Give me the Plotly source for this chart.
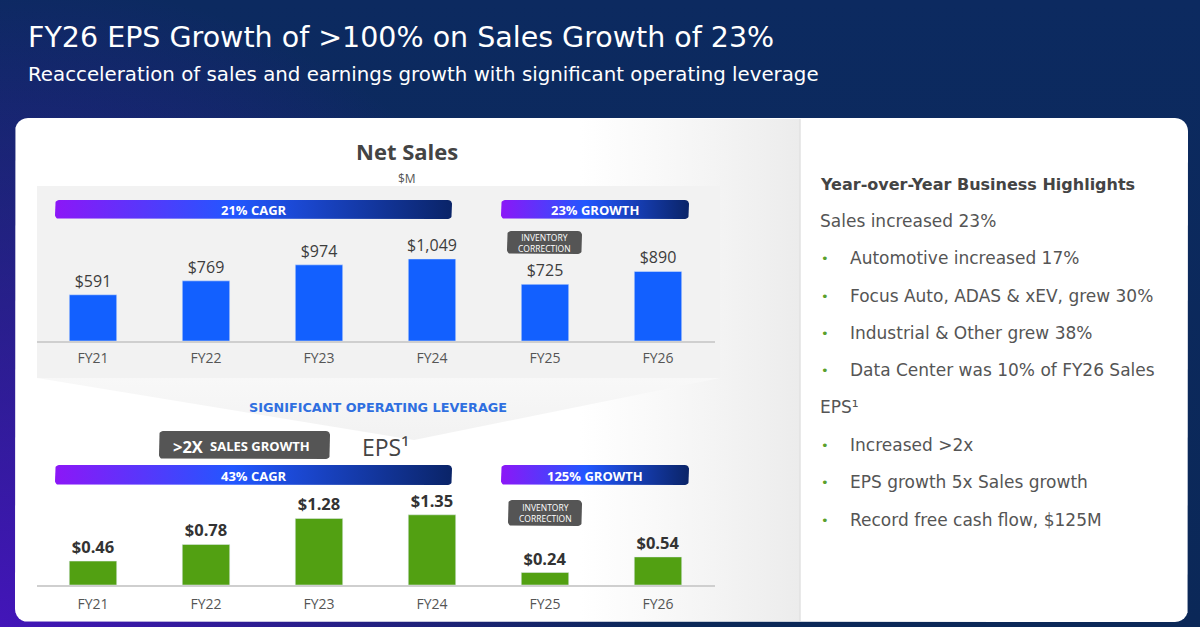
import numpy as np
import plotly.graph_objects as go

# ---------------- data ----------------
years = ["FY21", "FY22", "FY23", "FY24", "FY25", "FY26"]
net_sales = [591, 769, 974, 1049, 725, 890]          # $M
eps = [0.46, 0.78, 1.28, 1.35, 0.24, 0.54]           # $
sales_banners = ["21% CAGR", "23% GROWTH"]
eps_banners = ["43% CAGR", "125% GROWTH"]
highlight_title = "Year-over-Year Business Highlights"
sales_head = "Sales increased 23%"
sales_points = ["Automotive increased 17%",
                "Focus Auto, ADAS & xEV, grew 30%",
                "Industrial & Other grew 38%",
                "Data Center was 10% of FY26 Sales"]
eps_head = "EPS¹"
eps_points = ["Increased >2x",
              "EPS growth 5x Sales growth",
              "Record free cash flow, $125M"]

FONT = "Open Sans"
WIDE = "DejaVu Sans"
W, H = 1200, 627
BLUE = "#1260ff"
GREEN = "#52a012"
GRAD = [[0, "#8c17f7"], [0.45, "#2257ff"], [1, "#0a2468"]]


def rrect(x0, y0, x1, y1, r, n=7):
    pts = []
    corners = [(x1 - r, y0 + r, -90, 0), (x1 - r, y1 - r, 0, 90),
               (x0 + r, y1 - r, 90, 180), (x0 + r, y0 + r, 180, 270)]
    for cx, cy, a0, a1 in corners:
        for t in np.linspace(np.radians(a0), np.radians(a1), n):
            pts.append((cx + r * np.cos(t), cy + r * np.sin(t)))
    pts.append(pts[0])
    return [p[0] for p in pts], [p[1] for p in pts]


def deco(xs, ys, color=None, grad=None):
    d = dict(x=xs, y=ys, xaxis="x", yaxis="y", mode="lines", line=dict(width=0),
             fill="toself", hoverinfo="skip", showlegend=False)
    if grad is not None:
        d["fillgradient"] = grad
    else:
        d["fillcolor"] = color
    return go.Scatter(**d)


fig = go.Figure()

# ---------- background & card (pixel overlay axes) ----------
fig.add_trace(deco([0, W, W, 0, 0], [0, 0, H, H, 0],
                   grad=dict(type="vertical", colorscale=[[0, "#0b2858"], [1, "#0c2a60"]])))
fig.add_trace(deco([-650, 650, 650, -650, -650], [H - 650, H - 650, H + 650, H + 650, H - 650],
                   grad=dict(type="radial", colorscale=[[0, "rgba(70,20,190,0.95)"],
                                                        [1, "rgba(70,20,190,0)"]])))
cx, cy = rrect(15, 118, 1188, 622, 13)
fig.add_trace(deco(cx, cy, color="#ffffff"))
# soft grey towards divider
fig.add_trace(deco([580, 800, 800, 580, 580], [119, 119, 621, 621, 119],
                   grad=dict(type="horizontal", colorscale=[[0, "rgba(238,238,238,0)"],
                                                            [1, "rgba(236,236,236,1)"]])))
# net sales panel + funnel
fig.add_trace(deco([37, 720, 720, 37, 37], [186, 186, 378, 378, 186], color="#f2f2f2"))
fig.add_trace(deco([37, 720, 414, 37], [378, 378, 440, 378],
                   grad=dict(type="vertical", colorscale=[[0, "#f2f2f2"], [1, "#f8f8f8"]])))
# divider
fig.add_trace(go.Scatter(x=[800, 800], y=[119, 621], xaxis="x", yaxis="y", mode="lines",
                         line=dict(color="#e2e2e2", width=1.5), hoverinfo="skip", showlegend=False))

# gradient banners
banner_boxes = [(55, 200, 452, 219), (501, 200, 689, 219),
                (55, 465, 452, 485), (501, 465, 689, 485)]
banner_texts = sales_banners + eps_banners
for (x0, y0, x1, y1) in banner_boxes:
    bx, by = rrect(x0, y0, x1, y1, 4)
    fig.add_trace(deco(bx, by, grad=dict(type="horizontal", colorscale=GRAD)))

# grey tag boxes
tag_boxes = [(507, 231, 582, 254), (508, 500, 582, 526), (159, 431, 330, 459)]
for (x0, y0, x1, y1) in tag_boxes:
    tx, ty = rrect(x0, y0, x1, y1, 4)
    fig.add_trace(deco(tx, ty, color="#555555"))

# ---------- bars ----------
fig.add_trace(go.Bar(x=years, y=net_sales, xaxis="x2", yaxis="y2", marker_color=BLUE,
                     width=0.42, texttemplate="$%{y:,.0f}", textposition="outside",
                     constraintext="none", cliponaxis=False,
                     textfont=dict(family=FONT, size=16, color="#3d3d3d"),
                     hoverinfo="skip", showlegend=False))
fig.add_trace(go.Bar(x=years, y=eps, xaxis="x3", yaxis="y3", marker_color=GREEN,
                     width=0.42, texttemplate="<b>$%{y:.2f}</b>", textposition="outside",
                     constraintext="none", cliponaxis=False,
                     textfont=dict(family=FONT, size=16.5, color="#333333"),
                     hoverinfo="skip", showlegend=False))

# ---------- annotations ----------
ann = []


def txt(x, y, s, size, color, bold=False, xanchor="left", yanchor="middle", family=FONT):
    ann.append(dict(x=x, y=y, xref="x", yref="y", text=f"<b>{s}</b>" if bold else s,
                    showarrow=False, xanchor=xanchor, yanchor=yanchor,
                    font=dict(family=family, size=size, color=color)))


txt(26, 37, "FY26 EPS Growth of >100% on Sales Growth of 23%", 28.5, "#ffffff", family=WIDE)
txt(26, 74, "Reacceleration of sales and earnings growth with significant operating leverage",
    19.8, "#ffffff", family=WIDE)

txt(407, 151, "Net Sales", 22, "#444444", bold=True, xanchor="center")
txt(407, 178, "$M", 12, "#555555", xanchor="center")

for (x0, y0, x1, y1), s in zip(banner_boxes, banner_texts):
    txt((x0 + x1) / 2, (y0 + y1) / 2 + 0.5, s, 13, "#ffffff", bold=True, xanchor="center")

for (x0, y0, x1, y1) in tag_boxes[:2]:
    ann.append(dict(x=(x0 + x1) / 2, y=(y0 + y1) / 2, xref="x", yref="y",
                    text="INVENTORY<br>CORRECTION", showarrow=False,
                    xanchor="center", yanchor="middle",
                    font=dict(family=FONT, size=8.5, color="#ffffff")))

txt(205, 446, ">2X", 16.5, "#ffffff", bold=True, xanchor="right")
txt(208, 446, "SALES GROWTH", 13, "#ffffff", bold=True)
txt(360, 447, "EPS¹", 23, "#444444")
txt(378, 407, "SIGNIFICANT OPERATING LEVERAGE", 12.8, "#2f6fe0", bold=True,
    xanchor="center", family=WIDE)

# right panel
txt(818, 184, highlight_title, 16, "#444444", bold=True, family=WIDE)
txt(818, 221, sales_head, 17, "#555555", family=WIDE)
ys = [258, 296, 333, 370]
for yy, s in zip(ys, sales_points):
    txt(819, yy, "•", 13, "#5aa02c", family=WIDE)
    txt(848, yy, s, 17, "#555555", family=WIDE)
txt(818, 407, eps_head, 17, "#555555", family=WIDE)
for yy, s in zip([445, 482, 520], eps_points):
    txt(819, yy, "•", 13, "#5aa02c", family=WIDE)
    txt(848, yy, s, 17, "#555555", family=WIDE)

# ---------- layout ----------
xdom = [36.5 / W, 714.5 / W]
ns_bot, ns_px = 341, 0.0782
ep_bot, ep_px = 585, 52.0
ns_range, ep_range = 1300, 2.0

fig.update_layout(
    width=W, height=H, autosize=False,
    margin=dict(l=0, r=0, t=0, b=0, pad=0),
    paper_bgcolor="#0b2858", plot_bgcolor="rgba(0,0,0,0)",
    showlegend=False, annotations=ann, bargap=0.58,
    xaxis=dict(domain=[0, 1], range=[0, W], visible=False, fixedrange=True),
    yaxis=dict(domain=[0, 1], range=[H, 0], visible=False, fixedrange=True),
    xaxis2=dict(domain=xdom, anchor="y2", type="category", showgrid=False, zeroline=False,
                showline=True, linecolor="#cfcfcf", linewidth=2, ticks="",
                ticklabelstandoff=3, tickfont=dict(family=FONT, size=14, color="#555555")),
    yaxis2=dict(domain=[1 - ns_bot / H, 1 - (ns_bot - ns_range * ns_px) / H], anchor="x2",
                range=[0, ns_range], visible=False, showgrid=False),
    xaxis3=dict(domain=xdom, anchor="y3", type="category", showgrid=False, zeroline=False,
                showline=True, linecolor="#cfcfcf", linewidth=2, ticks="",
                ticklabelstandoff=5, tickfont=dict(family=FONT, size=14, color="#555555")),
    yaxis3=dict(domain=[1 - ep_bot / H, 1 - (ep_bot - ep_range * ep_px) / H], anchor="x3",
                range=[0, ep_range], visible=False, showgrid=False),
)

fig.write_html("out.html", config={"displayModeBar": False},
               post_script="document.body.style.margin='0';")
